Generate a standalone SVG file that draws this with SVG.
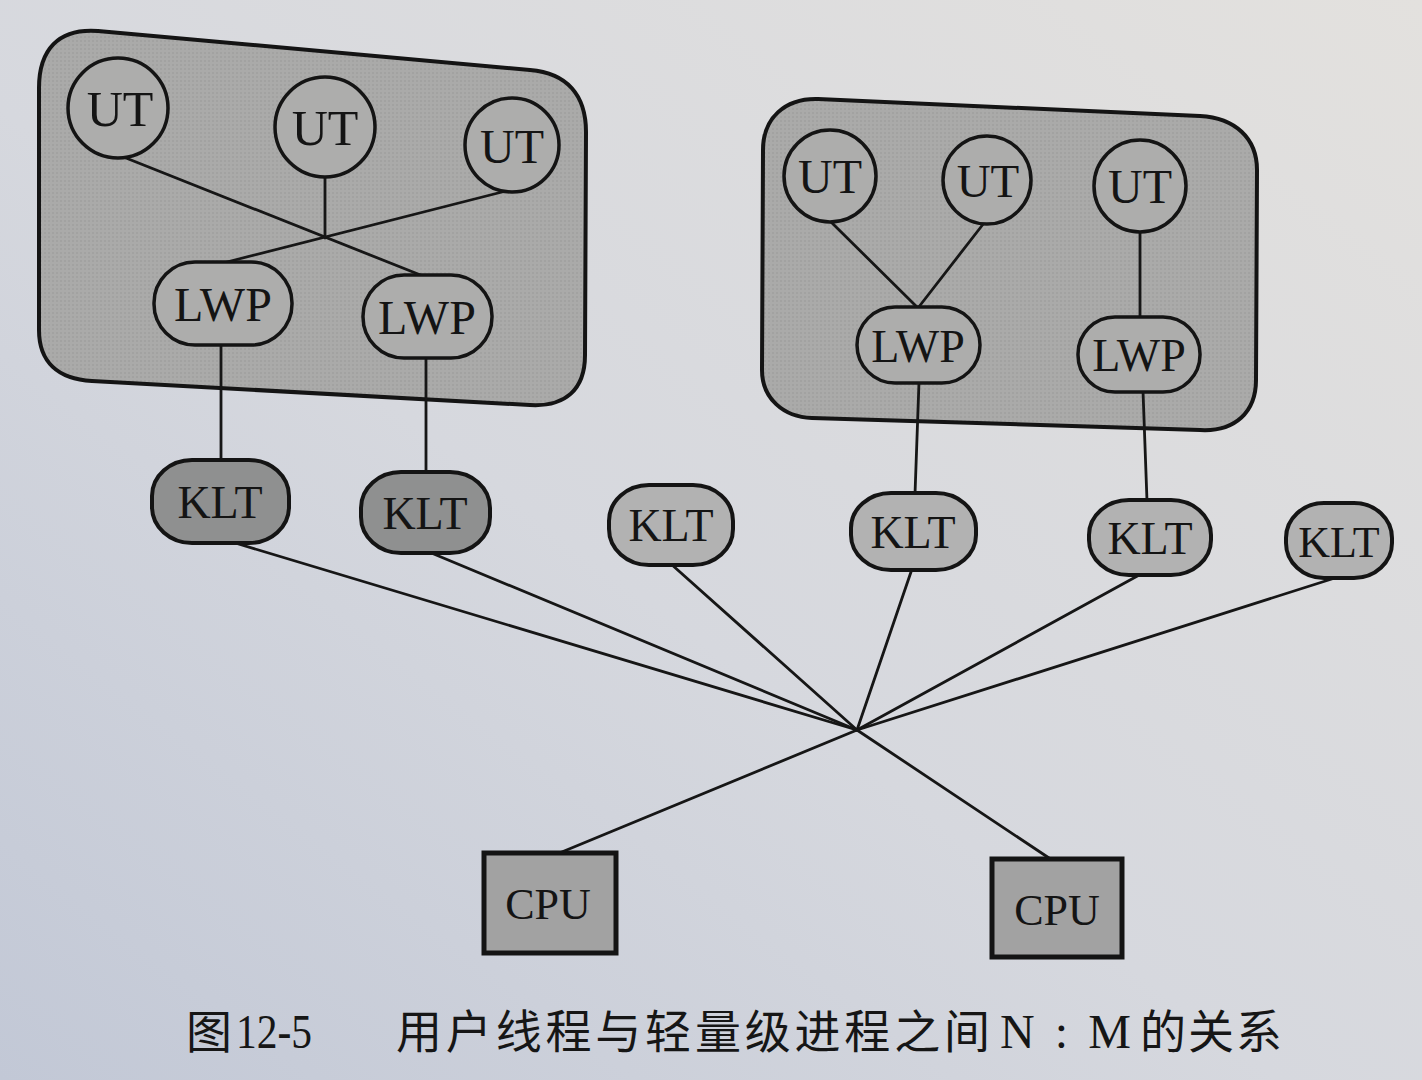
<svg xmlns="http://www.w3.org/2000/svg" width="1422" height="1080" viewBox="0 0 1422 1080">
  <defs>
    <linearGradient id="page" x1="0" y1="1" x2="1" y2="0">
      <stop offset="0" stop-color="#c2c8d6"/>
      <stop offset="0.45" stop-color="#d6d8de"/>
      <stop offset="1" stop-color="#e3e1de"/>
    </linearGradient>
    <pattern id="dots" width="4" height="4" patternUnits="userSpaceOnUse">
      <rect width="4" height="4" fill="none"/>
      <circle cx="1" cy="1" r="0.7" fill="#000" fill-opacity="0.12"/>
    </pattern>
  </defs>
  <style>
    .box { fill: #aaaaa9; stroke: #141414; stroke-width: 4; }
    .node { fill: #adadac; stroke: #141414; stroke-width: 3.5; }
    .kltd { fill: #8f9090; stroke: #141414; stroke-width: 4; }
    .kltl { fill: #b2b2b2; stroke: #141414; stroke-width: 4; }
    .cpu { fill: #a2a2a2; stroke: #141414; stroke-width: 5; }
    .tex { fill: url(#dots); stroke: none; }
    .ln { stroke: #161616; stroke-width: 2.8; fill: none; stroke-linecap: round; }
    .lbl { font-family: "Liberation Serif", "Times New Roman", serif; fill: #141414; text-anchor: middle; }
    .cap { font-family: "Liberation Serif", "Noto Sans CJK SC", serif; fill: #161616; font-size: 48px; }
    .capc { font-family: "Noto Sans CJK SC", sans-serif; fill: #161616; font-size: 46px; }
  </style>

  <rect width="1422" height="1080" fill="url(#page)"/>

  <!-- process containers -->
  <g id="process-left">
    <path class="box" d="M 39,88 C 39,50 58,28 98,31 L 530,70 C 567,73 586,95 586,132 L 585,355 C 585,390 565,407 530,405 L 92,381 C 58,379 39,362 39,330 Z"/>
    <path class="tex" d="M 39,88 C 39,50 58,28 98,31 L 530,70 C 567,73 586,95 586,132 L 585,355 C 585,390 565,407 530,405 L 92,381 C 58,379 39,362 39,330 Z"/>
  </g>
  <g id="process-right">
    <path class="box" d="M 763,150 C 763,118 785,98 818,99 L 1200,116 C 1235,118 1257,138 1257,170 L 1256,380 C 1256,412 1235,432 1200,430 L 812,418 C 783,417 762,398 762,370 Z"/>
    <path class="tex" d="M 763,150 C 763,118 785,98 818,99 L 1200,116 C 1235,118 1257,138 1257,170 L 1256,380 C 1256,412 1235,432 1200,430 L 812,418 C 783,417 762,398 762,370 Z"/>
  </g>

  <!-- connectors -->
  <g id="connectors">
    <line class="ln" x1="126" y1="158" x2="423" y2="276"/>
    <line class="ln" x1="506" y1="191" x2="223" y2="263"/>
    <line class="ln" x1="325" y1="176" x2="325" y2="238"/>
    <line class="ln" x1="221" y1="344" x2="221" y2="461"/>
    <line class="ln" x1="426" y1="357" x2="426" y2="473"/>
    <line class="ln" x1="830" y1="221" x2="918" y2="308"/>
    <line class="ln" x1="984" y1="223" x2="918" y2="308"/>
    <line class="ln" x1="1140" y1="231" x2="1140" y2="318"/>
    <line class="ln" x1="919" y1="382" x2="915" y2="494"/>
    <line class="ln" x1="1143" y1="391" x2="1147" y2="501"/>
    <line class="ln" x1="232" y1="542" x2="857" y2="730"/>
    <line class="ln" x1="429" y1="552" x2="857" y2="730"/>
    <line class="ln" x1="671" y1="564" x2="857" y2="730"/>
    <line class="ln" x1="912" y1="569" x2="857" y2="730"/>
    <line class="ln" x1="1141" y1="574" x2="857" y2="730"/>
    <line class="ln" x1="1338" y1="577" x2="857" y2="730"/>
    <line class="ln" x1="857" y1="730" x2="557" y2="854"/>
    <line class="ln" x1="857" y1="730" x2="1052" y2="860"/>
  </g>

  <!-- user threads, left -->
  <g id="ut-l1"><circle class="node" cx="118" cy="108" r="50"/><text class="lbl" x="120" y="126" font-size="50">UT</text></g>
  <g id="ut-l2"><circle class="node" cx="325" cy="127" r="50"/><text class="lbl" x="325" y="145" font-size="50">UT</text></g>
  <g id="ut-l3"><circle class="node" cx="512" cy="145" r="47"/><text class="lbl" x="512" y="163" font-size="48">UT</text></g>
  <!-- LWP, left -->
  <g id="lwp-l1"><rect class="node" x="154" y="262" width="138" height="83" rx="41"/><text class="lbl" x="223" y="321" font-size="48">LWP</text></g>
  <g id="lwp-l2"><rect class="node" x="363" y="275" width="129" height="83" rx="41"/><text class="lbl" x="427" y="334" font-size="48">LWP</text></g>

  <!-- user threads, right -->
  <g id="ut-r1"><circle class="node" cx="830" cy="176" r="46"/><text class="lbl" x="830" y="193" font-size="48">UT</text></g>
  <g id="ut-r2"><circle class="node" cx="987" cy="180" r="44"/><text class="lbl" x="988" y="197" font-size="47">UT</text></g>
  <g id="ut-r3"><circle class="node" cx="1140" cy="186" r="46"/><text class="lbl" x="1140" y="203" font-size="48">UT</text></g>
  <!-- LWP, right -->
  <g id="lwp-r1"><rect class="node" x="857" y="307" width="123" height="76" rx="38"/><text class="lbl" x="918" y="362" font-size="46">LWP</text></g>
  <g id="lwp-r2"><rect class="node" x="1078" y="317" width="122" height="75" rx="37"/><text class="lbl" x="1139" y="371" font-size="46">LWP</text></g>

  <!-- kernel threads -->
  <g id="klt-1"><rect class="kltd" x="152" y="460" width="137" height="83" rx="40" ry="36"/><text class="lbl" x="220" y="518" font-size="46">KLT</text></g>
  <g id="klt-2"><rect class="kltd" x="361" y="472" width="129" height="81" rx="40" ry="36"/><text class="lbl" x="425" y="529" font-size="46">KLT</text></g>
  <g id="klt-3"><rect class="kltl" x="609" y="485" width="124" height="80" rx="40" ry="36"/><text class="lbl" x="671" y="541" font-size="46">KLT</text></g>
  <g id="klt-4"><rect class="kltl" x="851" y="493" width="125" height="77" rx="40" ry="35"/><text class="lbl" x="913" y="548" font-size="46">KLT</text></g>
  <g id="klt-5"><rect class="kltl" x="1089" y="500" width="122" height="75" rx="40" ry="35"/><text class="lbl" x="1150" y="554" font-size="46">KLT</text></g>
  <g id="klt-6"><rect class="kltl" x="1286" y="503" width="106" height="75" rx="38" ry="35"/><text class="lbl" x="1339" y="557" font-size="44">KLT</text></g>

  <!-- processors -->
  <g id="cpu-1"><rect class="cpu" x="484" y="853" width="132" height="100"/><text class="lbl" x="548" y="919" font-size="44">CPU</text></g>
  <g id="cpu-2"><rect class="cpu" x="992" y="859" width="130" height="98"/><text class="lbl" x="1057" y="925" font-size="44">CPU</text></g>

  <!-- caption -->
  <g id="caption">
    <text class="capc" x="186" y="1048">图</text>
    <text class="cap" x="236" y="1048" textLength="76" lengthAdjust="spacingAndGlyphs">12-5</text>
    <text class="capc" x="396" y="1048" textLength="594" lengthAdjust="spacing">用户线程与轻量级进程之间</text>
    <text class="cap" x="1000" y="1048" textLength="131" lengthAdjust="spacing">N : M</text>
    <text class="capc" x="1140" y="1048" textLength="142" lengthAdjust="spacing">的关系</text>
  </g>
</svg>
